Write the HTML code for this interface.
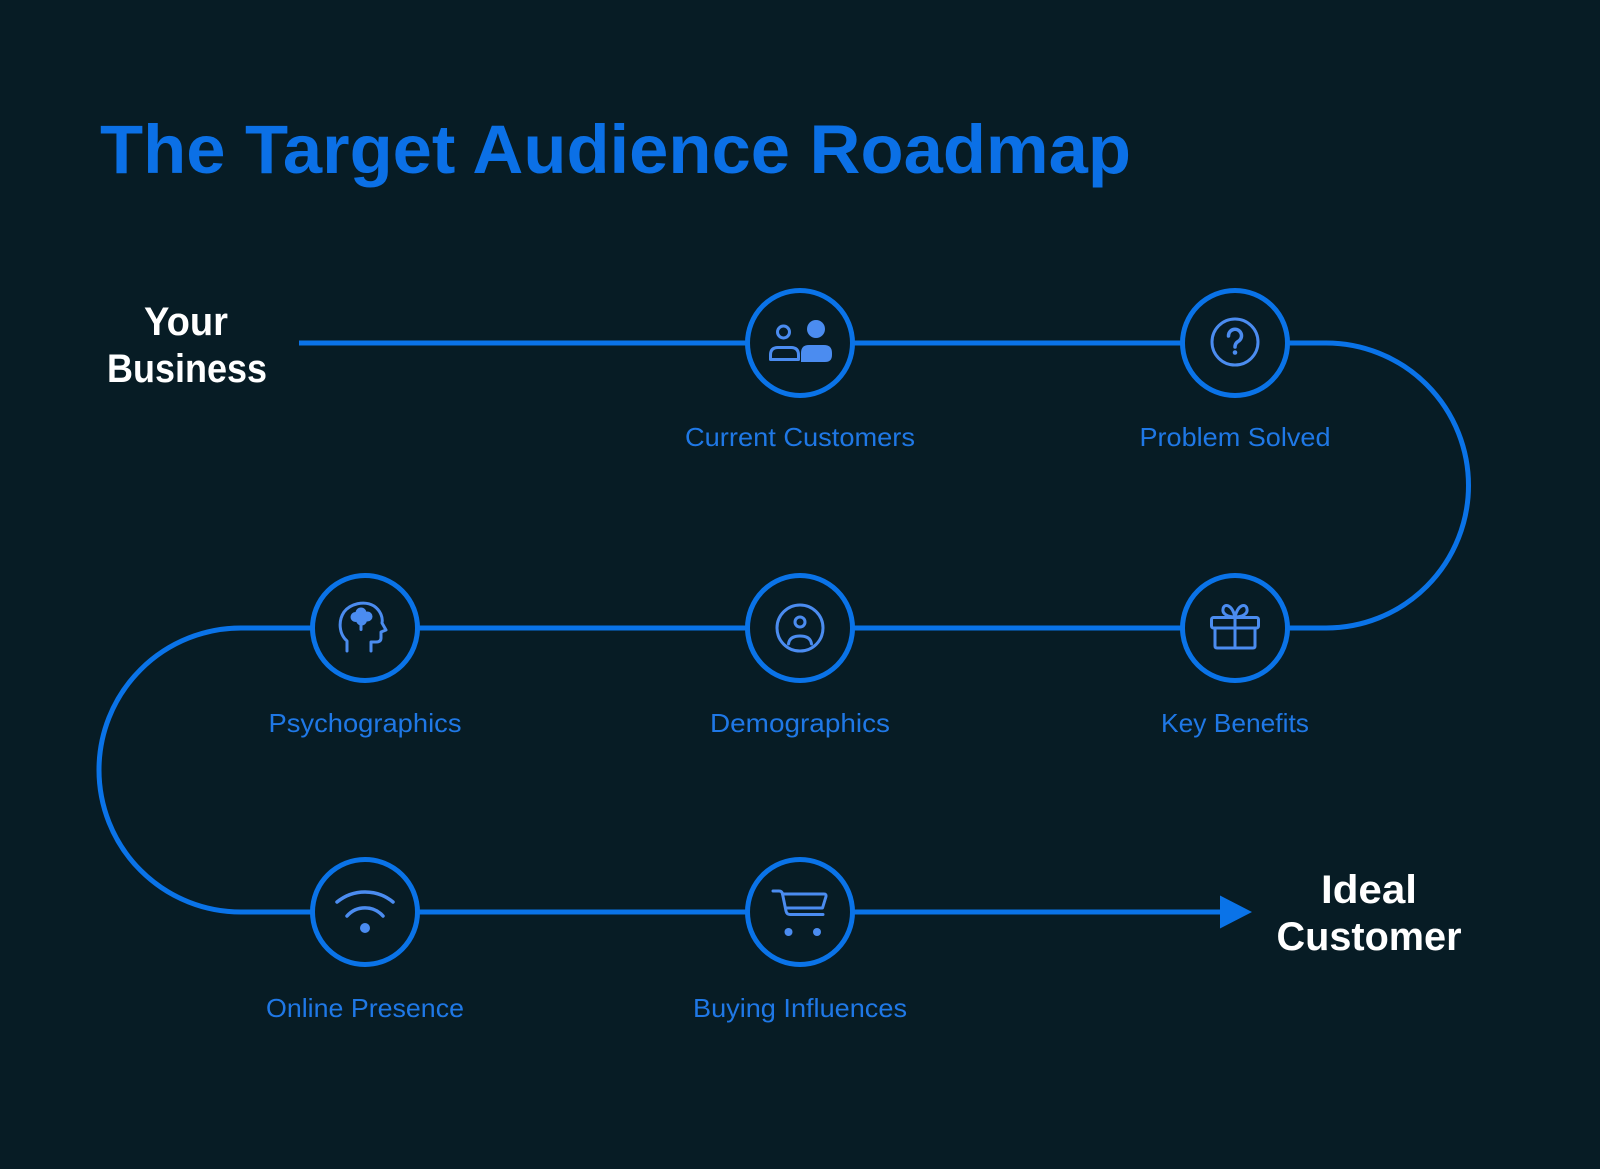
<!DOCTYPE html>
<html>
<head>
<meta charset="utf-8">
<style>
  html,body{margin:0;padding:0;background:#071c25;}
  svg{display:block;}
  text{font-family:"Liberation Sans",sans-serif;}
</style>
</head>
<body>
<svg width="1600" height="1169" viewBox="0 0 1600 1169" xmlns="http://www.w3.org/2000/svg">
  <rect width="1600" height="1169" fill="#071c25"/>

  <!-- Title -->
  <text x="100" y="173" font-size="69" font-weight="bold" fill="#0b70e6" textLength="1031" lengthAdjust="spacingAndGlyphs">The Target Audience Roadmap</text>

  <!-- Start / end labels -->
  <g fill="#ffffff" font-weight="bold" font-size="40" text-anchor="middle">
    <text x="186" y="335" textLength="84" lengthAdjust="spacingAndGlyphs">Your</text>
    <text x="187" y="382" textLength="160" lengthAdjust="spacingAndGlyphs">Business</text>
    <text x="1369" y="903" textLength="96" lengthAdjust="spacingAndGlyphs">Ideal</text>
    <text x="1369" y="950" textLength="185" lengthAdjust="spacingAndGlyphs">Customer</text>
  </g>

  <!-- Road path -->
  <path d="M299,343 H1326 A142.5,142.5 0 0 1 1326,628 H241 A142,142 0 0 0 241,912 H1222"
        fill="none" stroke="#0a73e8" stroke-width="5"/>
  <polygon points="1220,895.5 1252,912 1220,928.5" fill="#0a73e8"/>

  <!-- Node circles -->
  <g fill="#071c25" stroke="#0a73e8" stroke-width="5">
    <circle cx="800" cy="343" r="52.5"/>
    <circle cx="1235" cy="343" r="52.5"/>
    <circle cx="365" cy="628" r="52.5"/>
    <circle cx="800" cy="628" r="52.5"/>
    <circle cx="1235" cy="628" r="52.5"/>
    <circle cx="365" cy="912" r="52.5"/>
    <circle cx="800" cy="912" r="52.5"/>
  </g>

  <!-- Icons -->
  <g stroke="#4b8cf0" fill="none" stroke-width="3" stroke-linecap="round" stroke-linejoin="round">
    <!-- Current customers -->
    <circle cx="783.5" cy="332" r="6"/>
    <path d="M770.5,359.5 V355 Q770.5,347.5 778,347.5 H791 Q798.5,347.5 798.5,355 V359.5 Z"/>
    <!-- Problem solved -->
    <circle cx="1235" cy="342" r="23"/>
    <path d="M1228.5,336 A6.5,6.5 0 1 1 1238,341.5 Q1235,343.5 1235,347" stroke-width="3.5"/>
    <!-- Psychographics head -->
    <path d="M347,651 V641 C339,634 338,621 344,612 C350,604 364,600 374,606 C381,611 383,618 382,623 L386,630 L381,632 V638 Q381,642 376,642 H371 V651"/>
    <!-- Demographics -->
    <circle cx="800" cy="628" r="23"/>
    <circle cx="800" cy="622" r="5"/>
    <path d="M788.5,644 Q789.5,636 800,636 Q810.5,636 811.5,644"/>
    <!-- Key benefits gift -->
    <rect x="1211.5" y="617.5" width="47" height="10.5" rx="2"/>
    <path d="M1215,628 V646 Q1215,648 1217,648 H1253 Q1255,648 1255,646 V628"/>
    <path d="M1235,617.5 V648"/>
    <path d="M1235,617 C1228,617 1222,614 1223,609 C1224,603 1232,604 1235,617 C1238,604 1246,603 1247,609 C1248,614 1242,617 1235,617"/>
    <!-- Wifi -->
    <path d="M337,902 A44,44 0 0 1 393,902" stroke-width="3.5"/>
    <path d="M347,916 A24,24 0 0 1 383,916" stroke-width="3.5"/>
    <!-- Cart -->
    <path d="M773,891 H779 Q782,891 782.5,894 L786,911 Q786.8,914.5 790,914.5 H823"/>
    <path d="M782.5,894 H824 Q826.5,894 826,896.5 L822.5,908 H786"/>
  </g>
  <g fill="#4b8cf0">
    <!-- customers filled person -->
    <circle cx="816" cy="329" r="9"/>
    <path d="M801,362 V353 Q801,345 809,345 H824 Q832,345 832,353 V355 Q832,362 825,362 Z"/>
    <!-- question dot -->
    <circle cx="1235" cy="352.5" r="2.3"/>
    <!-- brain -->
    <circle cx="355.5" cy="617" r="5"/>
    <circle cx="361" cy="613" r="5.5"/>
    <circle cx="367.5" cy="616.5" r="5"/>
    <circle cx="361.5" cy="620" r="5.5"/>
    <rect x="359.5" y="620" width="3" height="11" rx="1.5"/>
    <!-- wifi dot -->
    <circle cx="365" cy="928" r="5"/>
    <!-- cart wheels -->
    <circle cx="788.5" cy="932" r="4"/>
    <circle cx="817" cy="932" r="4"/>
  </g>

  <!-- Node labels -->
  <g fill="#1f78e6" font-size="26" text-anchor="middle">
    <text x="800" y="446" textLength="230" lengthAdjust="spacingAndGlyphs">Current Customers</text>
    <text x="1235" y="446" textLength="191" lengthAdjust="spacingAndGlyphs">Problem Solved</text>
    <text x="365" y="732" textLength="193" lengthAdjust="spacingAndGlyphs">Psychographics</text>
    <text x="800" y="732" textLength="180" lengthAdjust="spacingAndGlyphs">Demographics</text>
    <text x="1235" y="732" textLength="148" lengthAdjust="spacingAndGlyphs">Key Benefits</text>
    <text x="365" y="1017" textLength="198" lengthAdjust="spacingAndGlyphs">Online Presence</text>
    <text x="800" y="1017" textLength="214" lengthAdjust="spacingAndGlyphs">Buying Influences</text>
  </g>
</svg>
</body>
</html>
